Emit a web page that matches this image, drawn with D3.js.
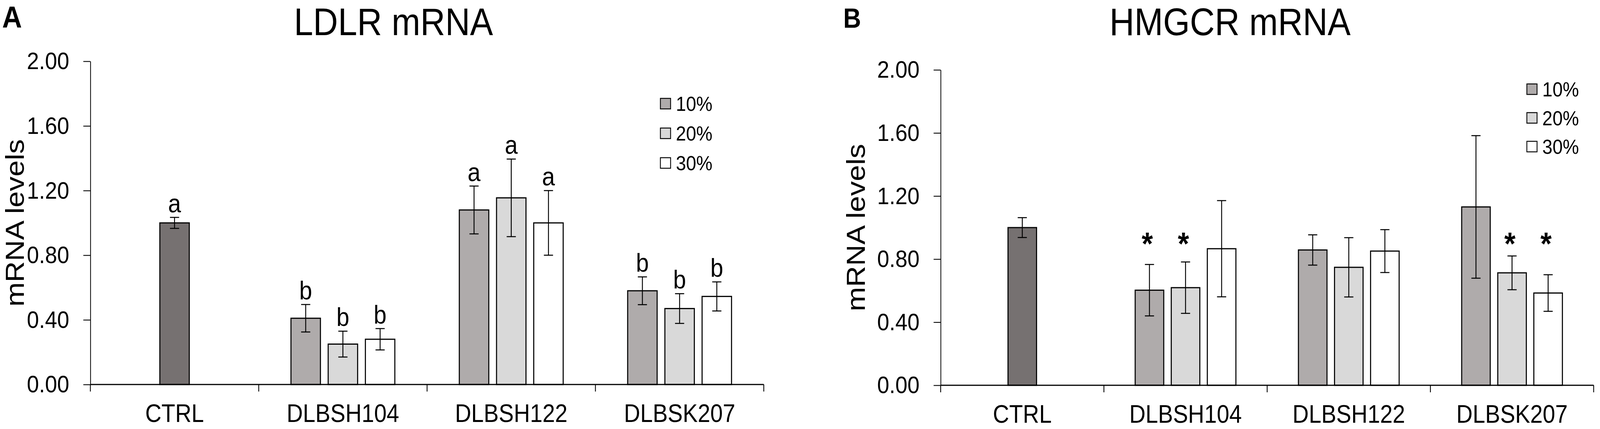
<!DOCTYPE html>
<html>
<head>
<meta charset="utf-8">
<script src="https://cdn.jsdelivr.net/npm/d3@7"></script>
<style>
  html, body { margin: 0; padding: 0; background: #fff; overflow: hidden; }
  svg { display: block; font-family: "Liberation Sans", Arial, sans-serif; }
</style>
</head>
<body>
<svg id="chart"></svg>
<script>
// data
const categories = ["CTRL", "DLBSH104", "DLBSH122", "DLBSK207"];
const doses = ["10%", "20%", "30%"];
const yTicks = [0, 0.4, 0.8, 1.2, 1.6, 2.0];

const ldlrMean = [[1.0], [0.41, 0.25, 0.28], [1.08, 1.155, 1.0], [0.58, 0.47, 0.545]];
const ldlrErr = [[0.034], [0.085, 0.08, 0.066], [0.148, 0.24, 0.2], [0.086, 0.092, 0.09]];
const ldlrLetters = [["a"], ["b", "b", "b"], ["a", "a", "a"], ["b", "b", "b"]];

const hmgcrMean = [[1.0], [0.603, 0.619, 0.866], [0.858, 0.748, 0.851], [1.131, 0.713, 0.585]];
const hmgcrErr = [[0.063], [0.163, 0.163, 0.305], [0.096, 0.188, 0.136], [0.452, 0.107, 0.116]];
const hmgcrStars = [[""], ["*", "*", ""], ["", "", ""], ["", "*", "*"]];
const starLevel = 0.83;

const ctrlColor = "#767171";
const doseColors = ["#afabab", "#d9d9d9", "#ffffff"];

// drawn in 4550x1099 units, stretched onto whatever the window really is
const width = 4550;
const height = 1099;
const svg = d3.select("#chart")
  .attr("width", window.innerWidth)
  .attr("height", window.innerHeight)
  .attr("viewBox", `0 0 ${width} ${height}`)
  .attr("preserveAspectRatio", "none");

const drawPanel = (p) => {
  const g = svg.append("g");

  const x = d3.scaleBand().domain(categories).range(p.xRange).padding(0);
  const y = d3.scaleLinear().domain([0, 2]).range(p.yRange);
  const band = x.bandwidth();
  const barW = band * 0.175;
  const step = band * 0.221;

  // flatten the bars
  const bars = [];
  categories.forEach((c, i) => {
    const n = p.means[i].length;
    p.means[i].forEach((m, j) => {
      bars.push({
        cat: c,
        cx: x(c) + band / 2 + (j - (n - 1) / 2) * step,
        mean: m,
        err: p.errs[i][j],
        fill: n === 1 ? ctrlColor : doseColors[j],
        note: p.notes[i][j]
      });
    });
  });

  // y axis
  const yAxis = g.append("g")
    .attr("transform", `translate(${p.xRange[0]},0)`)
    .call(d3.axisLeft(y).tickValues(yTicks).tickFormat(d3.format(".2f"))
      .tickSize(20).tickSizeOuter(0).tickPadding(40));
  yAxis.select(".domain").attr("stroke", "#000").attr("stroke-width", 2.2);
  yAxis.selectAll(".tick line").attr("stroke", "#000").attr("stroke-width", 2.2);
  yAxis.selectAll(".tick text")
    .attr("fill", "#000")
    .style("font-size", "62px")
    .style("font-family", "'Liberation Sans', Arial, sans-serif");

  // bars
  g.selectAll("rect.bar")
    .data(bars)
    .enter()
    .append("rect")
    .attr("class", "bar")
    .attr("x", (d) => d.cx - barW / 2)
    .attr("width", barW)
    .attr("y", (d) => y(d.mean))
    .attr("height", (d) => y(0) - y(d.mean))
    .attr("fill", (d) => d.fill)
    .attr("stroke", "#000")
    .attr("stroke-width", 3);

  // error bars
  const eb = g.selectAll("g.err").data(bars).enter().append("g").attr("class", "err")
    .attr("stroke", "#000").attr("stroke-width", 2.6);
  eb.append("line")
    .attr("x1", (d) => d.cx).attr("x2", (d) => d.cx)
    .attr("y1", (d) => y(d.mean + d.err)).attr("y2", (d) => y(d.mean - d.err));
  eb.append("line")
    .attr("x1", (d) => d.cx - 13).attr("x2", (d) => d.cx + 13)
    .attr("y1", (d) => y(d.mean + d.err)).attr("y2", (d) => y(d.mean + d.err));
  eb.append("line")
    .attr("x1", (d) => d.cx - 13).attr("x2", (d) => d.cx + 13)
    .attr("y1", (d) => y(d.mean - d.err)).attr("y2", (d) => y(d.mean - d.err));

  // x axis line with ticks on band boundaries
  g.append("line")
    .attr("x1", p.xRange[0]).attr("x2", p.xRange[1])
    .attr("y1", y(0)).attr("y2", y(0))
    .attr("stroke", "#000").attr("stroke-width", 3.2);
  const bounds = categories.map((c) => x(c)).concat([p.xRange[1]]);
  g.selectAll("line.xtick")
    .data(bounds)
    .enter()
    .append("line")
    .attr("class", "xtick")
    .attr("x1", (d) => d).attr("x2", (d) => d)
    .attr("y1", y(0)).attr("y2", y(0) + 18)
    .attr("stroke", "#000").attr("stroke-width", 2.4);

  const xAxis = g.append("g")
    .attr("transform", `translate(0,${y(0)})`)
    .call(d3.axisBottom(x).tickSize(0).tickPadding(51));
  xAxis.select(".domain").remove();
  xAxis.selectAll(".tick text")
    .attr("fill", "#000")
    .style("font-size", "64px")
    .style("font-family", "'Liberation Sans', Arial, sans-serif");

  // significance letters / stars
  if (p.kind === "letters") {
    g.selectAll("text.note")
      .data(bars)
      .enter()
      .append("text")
      .attr("class", "note")
      .attr("x", (d) => d.cx)
      .attr("y", (d) => y(d.mean + d.err) - 13)
      .attr("text-anchor", "middle")
      .style("font-size", "66px")
      .text((d) => d.note);
  } else {
    g.selectAll("text.note")
      .data(bars.filter((d) => d.note))
      .enter()
      .append("text")
      .attr("class", "note")
      .attr("x", (d) => d.cx - 6)
      .attr("y", y(starLevel))
      .attr("text-anchor", "middle")
      .style("font-size", "82px")
      .style("font-weight", "bold")
      .text((d) => d.note);
  }

  // y label
  g.append("text")
    .attr("transform", `translate(${p.yLabelX},${(p.yRange[0] + p.yRange[1]) / 2}) rotate(-90)`)
    .attr("text-anchor", "middle")
    .style("font-size", "75px")
    .text("mRNA levels");

  // title and panel letter
  g.append("text")
    .attr("x", p.titleX).attr("y", 90)
    .attr("text-anchor", "middle")
    .style("font-size", "98px")
    .text(p.title);
  g.append("text")
    .attr("x", p.letterX).attr("y", 71)
    .style("font-size", p.letterSize + "px")
    .style("font-weight", "bold")
    .text(p.letter);

  // legend
  const leg = g.selectAll("g.leg")
    .data(doses)
    .enter()
    .append("g")
    .attr("class", "leg")
    .attr("transform", (d, i) => `translate(${p.legX},${p.legY + i * p.legStep})`);
  leg.append("rect")
    .attr("x", 0).attr("y", -13)
    .attr("width", 29).attr("height", 27)
    .attr("fill", (d, i) => doseColors[i])
    .attr("stroke", "#000").attr("stroke-width", 2.4);
  leg.append("text")
    .attr("x", 44).attr("y", 19)
    .style("font-size", "52px")
    .text((d) => d);
};

drawPanel({
  means: ldlrMean, errs: ldlrErr, notes: ldlrLetters, kind: "letters",
  xRange: [257, 2172], yRange: [985, 157],
  title: "LDLR mRNA", titleX: 1119, letter: "A", letterX: 6, letterSize: 78,
  yLabelX: 68, legX: 1878, legY: 265, legStep: 76
});

drawPanel({
  means: hmgcrMean, errs: hmgcrErr, notes: hmgcrStars, kind: "stars",
  xRange: [2675, 4532], yRange: [987, 179],
  title: "HMGCR mRNA", titleX: 3498, letter: "B", letterX: 2398, letterSize: 70,
  yLabelX: 2459, legX: 4342, legY: 228, legStep: 73.5
});
</script>
</body>
</html>
